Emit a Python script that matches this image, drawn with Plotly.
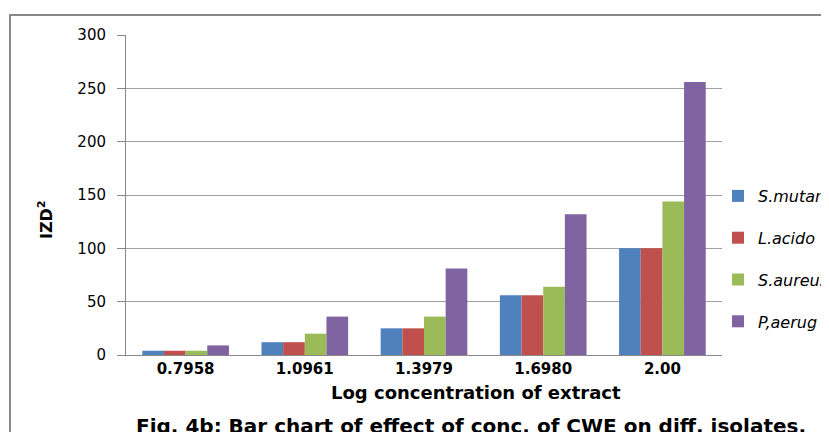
import plotly.graph_objects as go

categories = ["0.7958", "1.0961", "1.3979", "1.6980", "2.00"]
series_names = ["S.mutans", "L.acido", "S.aureus", "P,aerug"]
s_mutans = [4, 12, 25, 56, 100]
l_acido = [4, 12, 25, 56, 100]
s_aureus = [4, 20, 36, 64, 144]
p_aerug = [9, 36, 81, 132, 256]
colors = ["#4F81BD", "#C0504D", "#9BBB59", "#8064A2"]
y_ticks = [0, 50, 100, 150, 200, 250, 300]

fig = go.Figure()
for i, (name, vals) in enumerate(zip(series_names, [s_mutans, l_acido, s_aureus, p_aerug])):
    fig.add_trace(go.Bar(
        x=categories, y=vals, name=name, legendgroup=name,
        marker=dict(color=colors[i], line=dict(width=0)),
    ))

OFF = 8  # page body margin offset
W, H = 829, 432
# plot area in reference pixels
PL, PR, PT, PB = 126, 722, 35, 355
L = PL - OFF
T = PT - OFF
R = W - (PR - OFF)
B = H - (PB - OFF)
pw, ph = PR - PL, PB - PT

def px_x(x):
    return (x - PL) / pw

def px_y(y):
    return (PB - y) / ph

fig.update_layout(
    width=W, height=H,
    margin=dict(l=L, r=R, t=T, b=B, autoexpand=False),
    paper_bgcolor="white", plot_bgcolor="white",
    barmode="group", bargap=0.273, bargroupgap=0,
    font=dict(family="DejaVu Sans", color="#000000"),
    showlegend=True,
    legend=dict(
        x=px_x(718), y=px_y(179), xanchor="left", yanchor="top",
        font=dict(size=16, family="DejaVu Sans", style="italic"),
        tracegroupgap=18, bgcolor="rgba(0,0,0,0)",
        itemwidth=30,
    ),
    xaxis=dict(
        showline=True, linecolor="#888888", linewidth=1,
        ticks="", tickfont=dict(size=15, family="DejaVu Sans", weight="bold"),
    ),
    yaxis=dict(
        range=[0, 300], tickvals=y_ticks,
        showline=True, linecolor="#888888", linewidth=1,
        ticks="outside", ticklen=8, tickcolor="#888888",
        ticklabelstandoff=8,
        showgrid=True, gridcolor="#A0A0A0", gridwidth=1,
        zeroline=False,
        tickfont=dict(size=15, family="DejaVu Sans"),
    ),
    shapes=[dict(
        type="rect", xref="paper", yref="paper",
        x0=px_x(10), x1=px_x(900), y0=px_y(500), y1=px_y(15),
        line=dict(color="#888888", width=2), fillcolor="rgba(0,0,0,0)", layer="below",
    )],
    annotations=[
        dict(
            text="Log concentration of extract",
            xref="paper", yref="paper", x=px_x(476), y=px_y(392),
            xanchor="center", yanchor="middle", showarrow=False,
            font=dict(size=18, family="DejaVu Sans", weight="bold"),
        ),
        dict(
            text="IZD<sup>2</sup>",
            xref="paper", yref="paper", x=px_x(45), y=px_y(220),
            xanchor="center", yanchor="middle", showarrow=False, textangle=-90,
            font=dict(size=16, family="DejaVu Sans", weight="bold"),
        ),
        dict(
            text="Fig. 4b: Bar chart of effect of conc. of CWE on diff. isolates.",
            xref="paper", yref="paper", x=px_x(471), y=px_y(426),
            xanchor="center", yanchor="middle", showarrow=False,
            font=dict(size=20, family="DejaVu Sans", weight="bold"),
        ),
    ],
)

fig.write_html("out.html")
